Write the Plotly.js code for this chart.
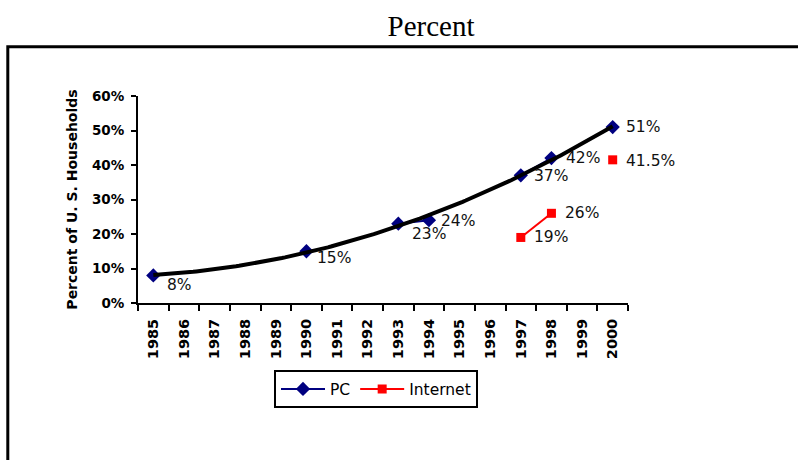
<!DOCTYPE html>
<html>
<head>
<meta charset="utf-8">
<script src="https://cdn.plot.ly/plotly-3.0.1.min.js"></script>
<style>
  html, body { margin: 0; padding: 0; background: #fff; }
  #chart { width: 798px; height: 460px; }
</style>
</head>
<body>
<div id="chart"></div>
<script>
// ---- data (null = no value for that year) ----
const years     = [1985, 1986, 1987, 1988, 1989, 1990, 1991, 1992, 1993, 1994, 1995, 1996, 1997, 1998, 1999, 2000];
const pcValues  = [0.08, null, null, null, null, 0.15, null, null, 0.23, 0.24, null, null, 0.37, 0.42, null, 0.51];
const netValues = [null, null, null, null, null, null, null, null, null, null, null, null, 0.19, 0.26, null, 0.415];

// label offsets (px) [dx, dy-down] by year — style only
const pcLabelOffsets  = { 1985: [12, 9.5], 1990: [9, 6.5], 1993: [12, 10], 1994: [10, 1], 1997: [11, 1], 1998: [13, 0], 2000: [11, 0] };
const netLabelOffsets = { 1997: [11, 0], 1998: [12, 0], 2000: [11, 1] };

// ---- polynomial (order 2) trendline fitted to the PC data ----
function quadFit(xs, ys) {
  const S = [0, 0, 0, 0, 0], T = [0, 0, 0];
  for (let i = 0; i < xs.length; i++) {
    let p = 1;
    for (let k = 0; k < 5; k++) { S[k] += p; if (k < 3) T[k] += p * ys[i]; p *= xs[i]; }
  }
  const M = [[S[0], S[1], S[2], T[0]], [S[1], S[2], S[3], T[1]], [S[2], S[3], S[4], T[2]]];
  for (let c = 0; c < 3; c++) {
    for (let r = c + 1; r < 3; r++) {
      const f = M[r][c] / M[c][c];
      for (let k = c; k < 4; k++) M[r][k] -= f * M[c][k];
    }
  }
  const sol = [0, 0, 0];
  for (let r = 2; r >= 0; r--) {
    let s = M[r][3];
    for (let k = r + 1; k < 3; k++) s -= M[r][k] * sol[k];
    sol[r] = s / M[r][r];
  }
  return sol;
}
const pcX = [], pcY = [];
years.forEach((yr, i) => { if (pcValues[i] !== null) { pcX.push(yr); pcY.push(pcValues[i]); } });
const t0 = pcX[0];
const coef = quadFit(pcX.map(y => y - t0), pcY);
const trendX = [], trendY = [];
for (let i = 0; i <= 150; i++) {
  const x = pcX[0] + (pcX[pcX.length - 1] - pcX[0]) * i / 150;
  const t = x - t0;
  trendX.push(x);
  trendY.push(coef[0] + coef[1] * t + coef[2] * t * t);
}

function fmtPct(v) { return (Math.round(v * 1000) / 10) + '%'; }

const labelFont = { family: 'DejaVu Sans', size: 15.5, color: '#111' };
const annotations = [];
function addLabels(values, offsets) {
  years.forEach((yr, i) => {
    if (values[i] === null) return;
    const off = offsets[yr] || [11, 0];
    annotations.push({
      x: yr, y: values[i], xref: 'x', yref: 'y', text: fmtPct(values[i]),
      showarrow: false, xanchor: 'left', yanchor: 'middle',
      xshift: off[0], yshift: -off[1], font: labelFont
    });
  });
}
addLabels(pcValues, pcLabelOffsets);
addLabels(netValues, netLabelOffsets);

const traces = [
  {
    type: 'scatter', mode: 'lines+markers', name: 'PC',
    x: years, y: pcValues, connectgaps: false,
    line: { color: '#000080', width: 2 },
    marker: { symbol: 'diamond', size: 11, color: '#000080' }
  },
  {
    type: 'scatter', mode: 'lines+markers', name: 'Internet',
    x: years, y: netValues, connectgaps: false,
    line: { color: '#FF0000', width: 2 },
    marker: { symbol: 'square', size: 9, color: '#FF0000' }
  },
  {
    type: 'scatter', mode: 'lines', name: 'Poly. (PC)', showlegend: false,
    x: trendX, y: trendY, hoverinfo: 'skip',
    line: { color: '#000000', width: 4 }
  }
];

// plot area: x 138..628, y 96..302.7
const L = 138, R = 628, T = 96, B = 302.7;
const layout = {
  width: 798, height: 460,
  paper_bgcolor: '#fff', plot_bgcolor: '#fff',
  margin: { l: L, r: 798 - R, t: T, b: 460 - B, pad: 0 },
  title: {
    text: 'Percent',
    font: { family: 'Liberation Serif', size: 29, color: '#000' },
    xref: 'container', x: 431 / 798, xanchor: 'center',
    yref: 'container', y: 1 - 25.5 / 460, yanchor: 'middle'
  },
  xaxis: {
    type: 'linear', range: [1984.5, 2000.5], fixedrange: true,
    tickmode: 'array', tickvals: years, ticktext: years.map(String),
    tickangle: -90,
    ticks: 'outside', ticklen: 6, tickcolor: 'rgba(0,0,0,0)',
    ticklabelstandoff: 2,
    tickfont: { family: 'DejaVu Sans', size: 14.5, weight: 'bold', color: '#000' },
    minor: { tickmode: 'linear', tick0: 1984.5, dtick: 1, ticks: 'outside', ticklen: 6, tickwidth: 2, tickcolor: '#000', showgrid: false },
    showline: true, linecolor: '#000', linewidth: 2,
    showgrid: false, zeroline: false
  },
  yaxis: {
    range: [0, 0.6], fixedrange: true,
    tickmode: 'linear', tick0: 0, dtick: 0.1, tickformat: '.0%',
    ticks: 'outside', ticklen: 5, tickwidth: 2, tickcolor: '#000',
    ticklabelstandoff: 4,
    tickfont: { family: 'DejaVu Sans', size: 13.5, weight: 'bold', color: '#000' },
    showline: true, linecolor: '#000', linewidth: 2,
    showgrid: false, zeroline: false,
    title: {
      text: 'Percent of U. S. Households', standoff: 11,
      font: { family: 'DejaVu Sans', size: 14, weight: 'bold', color: '#000' }
    }
  },
  showlegend: true,
  legend: {
    orientation: 'h',
    x: (274 - L) / (R - L), xanchor: 'left',
    y: (B - 370) / (B - T), yanchor: 'top',
    bordercolor: '#000', borderwidth: 2, bgcolor: '#fff',
    itemwidth: 44,
    font: { family: 'DejaVu Sans', size: 15.5, color: '#000' },
    itemclick: false, itemdoubleclick: false
  },
  annotations: annotations,
  shapes: [{
    type: 'rect', xref: 'paper', yref: 'paper', layer: 'below',
    x0: (7.8 - L) / (R - L), x1: 3,
    y0: -3, y1: (B - 46.7) / (B - T),
    line: { color: '#000', width: 3 }, fillcolor: 'rgba(0,0,0,0)'
  }],
  hovermode: false
};

Plotly.newPlot('chart', traces, layout, { displayModeBar: false, staticPlot: true });
</script>
</body>
</html>
